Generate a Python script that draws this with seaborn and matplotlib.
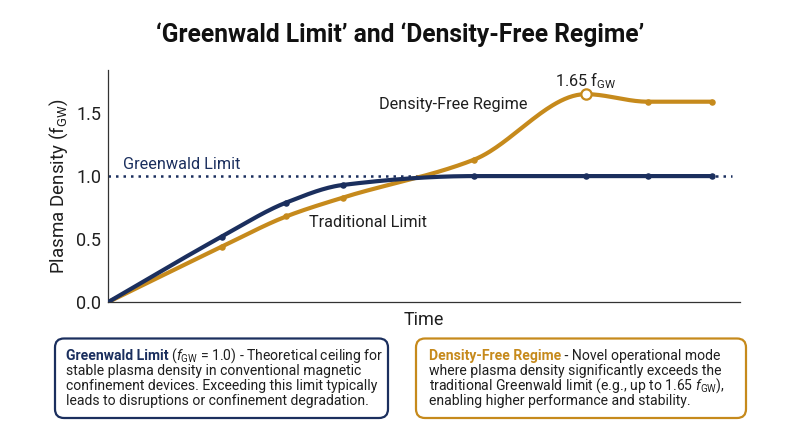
import numpy as np
import matplotlib
matplotlib.use("Agg")
import matplotlib.pyplot as plt
import seaborn as sns
from matplotlib.patches import FancyBboxPatch

# data (time in arbitrary units, density in f_GW)
time_pts = [0.0, 1.8, 2.82, 3.72, 5.79, 7.56, 8.54, 9.56]
greenwald = [0.0, 0.52, 0.79, 0.93, 1.0, 1.0, 1.0, 1.0]
density_free = [0.0, 0.44, 0.68, 0.83, 1.13, 1.65, 1.59, 1.59]
peak_idx = 5
limit_value = 1.0
y_ticks = [0.0, 0.5, 1.0, 1.5]

NAVY = "#1b2f5e"
GOLD = "#c68a1c"
TEXT = "#1f1f1f"

sns.set_style("white")
plt.rcParams["font.family"] = ["Roboto", "DejaVu Sans"]
plt.rcParams["mathtext.fontset"] = "custom"
plt.rcParams["mathtext.rm"] = "Roboto"
plt.rcParams["mathtext.it"] = "Roboto:italic"
plt.rcParams["mathtext.bf"] = "Roboto:bold"


def smooth(x, y, n=300):
    # monotone cubic (Fritsch-Carlson) path through the points
    x = np.asarray(x, float)
    y = np.asarray(y, float)
    h = np.diff(x)
    d = np.diff(y) / h
    m = np.zeros_like(y)
    m[0], m[-1] = d[0], d[-1]
    for i in range(1, len(x) - 1):
        if d[i - 1] * d[i] <= 0:
            m[i] = 0
        else:
            w1 = 2 * h[i] + h[i - 1]
            w2 = h[i] + 2 * h[i - 1]
            m[i] = (w1 + w2) / (w1 / d[i - 1] + w2 / d[i])
    xs = np.linspace(x[0], x[-1], n)
    k = np.clip(np.searchsorted(x, xs) - 1, 0, len(x) - 2)
    t = (xs - x[k]) / h[k]
    h00 = 2 * t**3 - 3 * t**2 + 1
    h10 = t**3 - 2 * t**2 + t
    h01 = -2 * t**3 + 3 * t**2
    h11 = t**3 - t**2
    ys = h00 * y[k] + h10 * h[k] * m[k] + h01 * y[k + 1] + h11 * h[k] * m[k + 1]
    return xs, ys


fig = plt.figure(figsize=(8, 4.47), dpi=100)
ax = fig.add_axes([0.135, 0.324, 0.79, 0.519])

# Greenwald limit reference line
ax.plot([0, 9.87], [limit_value, limit_value], color=NAVY, lw=1.8,
        linestyle=(0, (1, 2)), zorder=1)

xs, ys = smooth(time_pts, greenwald)
ax.plot(xs, ys, color=NAVY, lw=3, solid_capstyle="round", zorder=3)
xs, ys = smooth(time_pts, density_free)
ax.plot(xs, ys, color=GOLD, lw=3, solid_capstyle="round", zorder=2)

sns.scatterplot(x=time_pts[1:], y=greenwald[1:], color=NAVY, s=22,
                linewidth=0, ax=ax, zorder=4)
pts_x = [v for i, v in enumerate(time_pts[1:], 1) if i != peak_idx]
pts_y = [v for i, v in enumerate(density_free[1:], 1) if i != peak_idx]
sns.scatterplot(x=pts_x, y=pts_y, color=GOLD, s=22, linewidth=0, ax=ax, zorder=4)
ax.scatter([time_pts[peak_idx]], [density_free[peak_idx]], s=55, facecolor="white",
           edgecolor=GOLD, linewidth=1.6, zorder=5)

ax.set_xlim(0, 10)
ax.set_ylim(0, 1.84)
ax.set_yticks(y_ticks)
ax.set_yticklabels([f"{v:.1f}" for v in y_ticks])
ax.set_xticks([4.95])
ax.set_xticklabels([""])
ax.tick_params(axis="y", length=0, labelsize=13, pad=5, labelcolor=TEXT)
ax.tick_params(axis="x", length=5, width=0.8, color="#555555")
ax.set_xlabel("Time", fontsize=13, color=TEXT, labelpad=-2)
ax.set_ylabel(r"Plasma Density (f$_{\mathregular{GW}}$)", fontsize=13.5, color=TEXT, labelpad=4)
sns.despine(ax=ax)
for s in ("left", "bottom"):
    ax.spines[s].set_color("#333333")
    ax.spines[s].set_linewidth(0.9)

ax.text(0.24, 1.09, "Greenwald Limit", color=NAVY, fontsize=11.7, va="center")
ax.text(3.18, 0.63, "Traditional Limit", color=TEXT, fontsize=11.7, va="center")
ax.text(4.29, 1.57, "Density-Free Regime", color=TEXT, fontsize=11.7, va="center")
ax.text(time_pts[peak_idx], 1.76, r"1.65 f$_{\mathregular{GW}}$",
        color=TEXT, fontsize=11.7, ha="center", va="center")

fig.suptitle("‘Greenwald Limit’ and ‘Density-Free Regime’", y=0.95, fontsize=17.7,
             fontweight="semibold", color="#111111")

# explanation boxes in pixel coordinates
bx = fig.add_axes([0, 0, 1, 1])
bx.set_xlim(0, 800)
bx.set_ylim(447, 0)
bx.axis("off")
for x0, x1, col in [(55, 388, NAVY), (416, 746, GOLD)]:
    bx.add_patch(FancyBboxPatch((x0, 338.5), x1 - x0, 79.5, boxstyle="round,pad=0,rounding_size=9",
                                facecolor="white", edgecolor=col, linewidth=1.6))


def line(x, y, pieces, fs=10.1):
    prev = None
    for text, color, weight in pieces:
        if prev is None:
            prev = bx.text(x, y, text, color=color, fontweight=weight, fontsize=fs, va="baseline")
        else:
            prev = bx.annotate(text, xy=(1, y), xycoords=(prev, "data"), color=color,
                               fontweight=weight, fontsize=fs, va="baseline")


left_lines = [
    [("Greenwald Limit", NAVY, "bold"),
     (r" ($f_{\mathregular{GW}}$ = 1.0) - Theoretical ceiling for", TEXT, "normal")],
    [("stable plasma density in conventional magnetic", TEXT, "normal")],
    [("confinement devices. Exceeding this limit typically", TEXT, "normal")],
    [("leads to disruptions or confinement degradation.", TEXT, "normal")],
]
right_lines = [
    [("Density-Free Regime", GOLD, "bold"), (" - Novel operational mode", TEXT, "normal")],
    [("where plasma density significantly exceeds the", TEXT, "normal")],
    [(r"traditional Greenwald limit (e.g., up to 1.65 $f_{\mathregular{GW}}$),", TEXT, "normal")],
    [("enabling higher performance and stability.", TEXT, "normal")],
]
for i, pieces in enumerate(left_lines):
    line(66, 360 + i * 14.9, pieces)
for i, pieces in enumerate(right_lines):
    line(429, 360 + i * 14.9, pieces)

fig.savefig("out.png", dpi=100)
